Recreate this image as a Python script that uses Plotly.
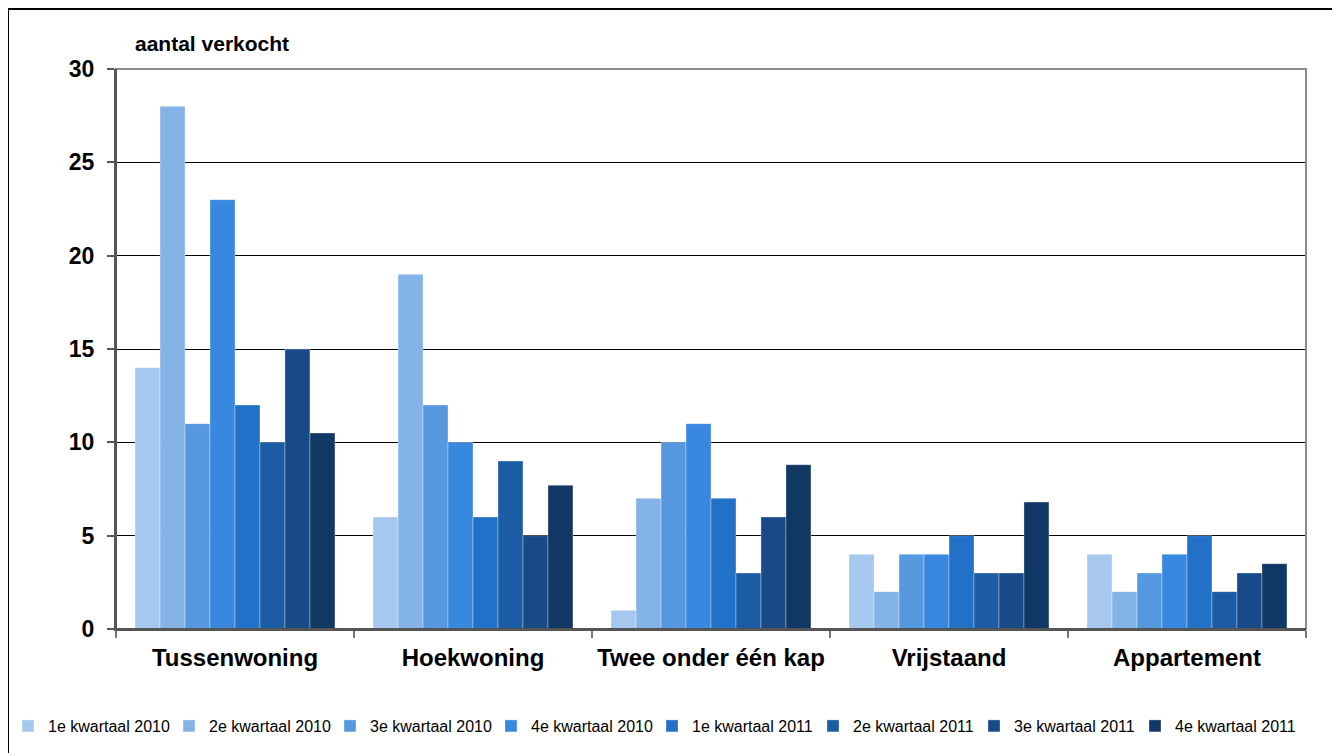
import plotly.graph_objects as go

categories = ["Tussenwoning", "Hoekwoning", "Twee onder één kap", "Vrijstaand", "Appartement"]
series_names = ["1e kwartaal 2010", "2e kwartaal 2010", "3e kwartaal 2010", "4e kwartaal 2010",
                "1e kwartaal 2011", "2e kwartaal 2011", "3e kwartaal 2011", "4e kwartaal 2011"]
q1_2010 = [14, 6, 1, 4, 4]
q2_2010 = [28, 19, 7, 2, 2]
q3_2010 = [11, 12, 10, 4, 3]
q4_2010 = [23, 10, 11, 4, 4]
q1_2011 = [12, 6, 7, 5, 5]
q2_2011 = [10, 9, 3, 3, 2]
q3_2011 = [15, 5, 6, 3, 3]
q4_2011 = [10.5, 7.7, 8.8, 6.8, 3.5]
colors = ["#A6C8EE", "#84B3E8", "#5799E1", "#3888DF", "#2171C8", "#1B5CA5", "#184A87", "#113764"]
y_ticks = [0, 5, 10, 15, 20, 25, 30]

series = [q1_2010, q2_2010, q3_2010, q4_2010, q1_2011, q2_2011, q3_2011, q4_2011]

fig = go.Figure()
for name, vals, col in zip(series_names, series, colors):
    fig.add_trace(go.Bar(
        x=categories, y=vals, name=name,
        marker=dict(color=col, line=dict(color="rgba(255,255,255,0.45)", width=0.7)),
    ))

font_family = "Liberation Sans, Arial, sans-serif"
W, H = 1332, 745
L, T, R, B = 108, 61, 34, 124
PW, PH = W - L - R, H - T - B

fig.update_layout(
    width=W, height=H,
    margin=dict(l=L, r=R, t=T, b=B, autoexpand=False),
    paper_bgcolor="white", plot_bgcolor="white",
    barmode="group", bargap=0.16, bargroupgap=0,
    font=dict(family=font_family, color="black"),
    showlegend=True,
    legend=dict(orientation="h", xref="paper", yref="paper",
                x=-L / PW, xanchor="left", y=(PH - (718 - T)) / PH, yanchor="middle",
                bgcolor="rgba(0,0,0,0)",
                font=dict(size=16, family=font_family), traceorder="normal",
                entrywidth=116, entrywidthmode="pixels", itemclick=False),
    xaxis=dict(
        showline=True, linecolor="#555555", linewidth=2, mirror=False,
        ticks="outside", tickson="boundaries", ticklen=7, tickcolor="#777777", tickwidth=2,
        tickfont=dict(size=24, family=font_family, weight="bold"),
        ticklabelstandoff=6, tickangle=0, automargin=False,
        showgrid=False,
    ),
    yaxis=dict(
        range=[0, 30], tickvals=y_ticks,
        showline=True, linecolor="#555555", linewidth=2,
        ticks="outside", ticklen=7, tickcolor="#555555", tickwidth=2,
        tickfont=dict(size=23, family=font_family, weight="bold"),
        ticklabelstandoff=8, automargin=False,
        showgrid=True, gridcolor="black", gridwidth=1, zeroline=False,
    ),
    annotations=[dict(text="<b>aantal verkocht</b>", xref="paper", yref="paper",
                      x=17 / PW, y=1.0, xanchor="left", yanchor="middle", yshift=26,
                      showarrow=False, font=dict(size=21, family=font_family))],
    shapes=[
        dict(type="rect", xref="paper", yref="paper", x0=0, x1=1, y0=0, y1=1,
             line=dict(color="#8c8c8c", width=2), layer="above"),
        dict(type="line", xref="paper", yref="paper", x0=0, x1=0, y0=0, y1=1,
             line=dict(color="#555555", width=2), layer="above"),
        dict(type="line", xref="paper", yref="paper", x0=0, x1=1, y0=0, y1=0,
             line=dict(color="#555555", width=2), layer="above"),
        dict(type="rect", xref="paper", yref="paper",
             x0=(0 - L) / PW, x1=(W - 2 - L) / PW,
             y0=-(B + 10) / PH, y1=(PH + T - 1) / PH,
             line=dict(color="black", width=2), layer="above"),
    ],
)

fig.write_html("out.html")
